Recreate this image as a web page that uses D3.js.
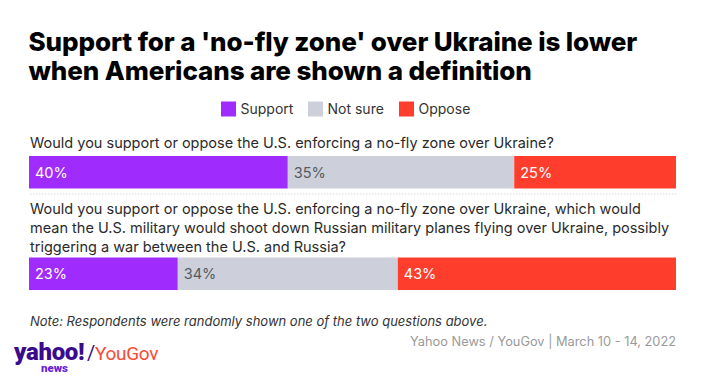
<!DOCTYPE html>
<html><head><meta charset="utf-8">
<script src="https://cdn.jsdelivr.net/npm/d3@7"></script>
<style>
html,body{margin:0;padding:0;background:#fff;}
svg{display:block;font-family:Inter,Roboto,"Noto Sans",sans-serif;}
</style></head>
<body>
<div id="chart"></div>
<script>
const titleLines = ["Support for a 'no-fly zone' over Ukraine is lower", "when Americans are shown a definition"];
const categories = ["Support", "Not sure", "Oppose"];
const colors = ["#9f2cfd", "#cdd0da", "#fe3d2c"];
const labelColors = ["#ffffff", "#555a60", "#ffffff"];
const questionLines = [
  ["Would you support or oppose the U.S. enforcing a no-fly zone over Ukraine?"],
  ["Would you support or oppose the U.S. enforcing a no-fly zone over Ukraine, which would",
   "mean the U.S. military would shoot down Russian military planes flying over Ukraine, possibly",
   "triggering a war between the U.S. and Russia?"]
];
const supportValues = [40, 23];
const notSureValues = [35, 34];
const opposeValues = [25, 43];
const noteText = "Note: Respondents were randomly shown one of the two questions above.";
const sourceText = "Yahoo News / YouGov | March 10 - 14, 2022";

const W = 705, H = 378;
const svg = d3.select("#chart").append("svg").attr("width", W).attr("height", H);

// title
const title = svg.append("g");
titleLines.forEach((t, i) => {
  title.append("text").attr("x", 28.5).attr("y", 51.3 + i * 28.2)
    .attr("font-family", "Inter, Roboto, sans-serif").attr("font-weight", 800)
    .attr("font-size", 26).attr("fill", "#000").attr("letter-spacing", -0.1).text(t);
});

// legend
const legendX = [221, 308, 399];
const lg = svg.append("g");
categories.forEach((c, i) => {
  lg.append("rect").attr("x", legendX[i]).attr("y", 101.5).attr("width", 15).attr("height", 15)
    .attr("fill", colors[i]);
  lg.append("text").attr("x", legendX[i] + 19.5).attr("y", 114).attr("font-size", 14)
    .attr("fill", "#333").text(c);
});

// bars
const x = d3.scaleLinear().domain([0, 100]).range([29, 676]);
const rows = supportValues.map((s, i) => [s, notSureValues[i], opposeValues[i]]);
const qTextY = [148, 214.3];
const barY = [156, 257.5];
const barH = 32.5;
const lineH = 19;

rows.forEach((vals, r) => {
  const g = svg.append("g");
  questionLines[r].forEach((line, j) => {
    g.append("text").attr("x", 30).attr("y", qTextY[r] + j * lineH)
      .attr("font-size", 14.5).attr("fill", "#2a2a2a").text(line);
  });
  const stack = d3.cumsum(vals);
  vals.forEach((v, k) => {
    const x0 = x(stack[k] - v), x1 = x(stack[k]);
    g.append("rect").attr("x", x0).attr("y", barY[r]).attr("width", x1 - x0).attr("height", barH)
      .attr("fill", colors[k]);
    g.append("text").attr("x", x0 + 6).attr("y", barY[r] + barH / 2 + 5.5)
      .attr("font-size", 14.5).attr("fill", labelColors[k]).text(v + "%");
  });
});

// dotted separator
svg.append("line").attr("x1", 30).attr("x2", 676).attr("y1", 194).attr("y2", 194)
  .attr("stroke", "#d6d6d6").attr("stroke-width", 1).attr("stroke-dasharray", "1.5,1.5");

// note
svg.append("text").attr("x", 30).attr("y", 326).attr("font-size", 13).attr("font-style", "italic")
  .attr("fill", "#333").text(noteText);

// source
svg.append("text").attr("x", 676).attr("y", 346).attr("text-anchor", "end").attr("font-size", 12.8)
  .attr("fill", "#9a9a9a").text(sourceText);

// logo
const logo = svg.append("g");
logo.append("text").attr("x", 14).attr("y", 359.5).attr("font-family", "Roboto, sans-serif")
  .attr("font-weight", 900).attr("font-size", 24).attr("fill", "#3a0b8c").attr("letter-spacing", -0.3).text("yahoo!");
logo.append("text").attr("x", 87).attr("y", 359.5).attr("font-family", "Roboto, sans-serif")
  .attr("font-size", 20).attr("fill", "#3a0b8c").text("/");
logo.append("text").attr("x", 95).attr("y", 359.5).attr("font-family", "Roboto, sans-serif")
  .attr("font-size", 19).attr("fill", "#fb4a35").attr("letter-spacing", -0.3).text("YouGov");
logo.append("text").attr("x", 41).attr("y", 371.5).attr("font-family", "Roboto, sans-serif")
  .attr("font-weight", 900).attr("font-size", 11.5).attr("fill", "#6a1fd8").text("news");
</script>
</body></html>
